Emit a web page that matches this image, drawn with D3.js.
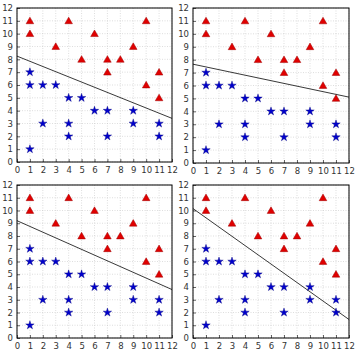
<!DOCTYPE html>
<html><head><meta charset="utf-8">
<script src="https://cdn.jsdelivr.net/npm/d3@7"></script>
<style>body{margin:0;background:#fff}svg{display:block}</style>
</head><body>
<svg id="c" width="361" height="356"></svg>
<script>
const redX = [1,1,3,4,5,6,7,7,8,9,10,10,11,11];
const redY = [11,10,9,11,8,10,8,7,8,9,11,6,7,5];
const blueX = [1,1,2,3,1,2,4,5,4,4,6,7,7,9,9,11,11];
const blueY = [7,6,6,6,1,3,5,5,3,2,4,4,2,4,3,3,2];
// separating lines: value at x=0 and x=12 for each panel
const lineStart = [8.25, 7.65, 9.2, 10.15];
const lineEnd = [3.4, 5.1, 3.8, 1.45];
const ticks = [0,1,2,3,4,5,6,7,8,9,10,11,12];

const panels = [
  {x0:17, x1:172, y0:8, y1:162},
  {x0:193, x1:349, y0:8, y1:163},
  {x0:17, x1:172, y0:185, y1:338},
  {x0:193, x1:349, y0:185, y1:338}
];
const svg = d3.select("#c");
panels.forEach((p,i)=>{
  const x = d3.scaleLinear().domain([0,12]).range([p.x0,p.x1]);
  const y = d3.scaleLinear().domain([0,12]).range([p.y1,p.y0]);
  const g = svg.append("g");
  g.selectAll(".gx").data(ticks).enter().append("line")
    .attr("x1",d=>x(d)).attr("x2",d=>x(d)).attr("y1",p.y0).attr("y2",p.y1)
    .attr("stroke","#c8c8c8").attr("stroke-width",0.6).attr("stroke-dasharray","1,1.5");
  g.selectAll(".gy").data(ticks).enter().append("line")
    .attr("y1",d=>y(d)).attr("y2",d=>y(d)).attr("x1",p.x0).attr("x2",p.x1)
    .attr("stroke","#c8c8c8").attr("stroke-width",0.6).attr("stroke-dasharray","1,1.5");
  g.append("line").attr("x1",x(0)).attr("y1",y(lineStart[i])).attr("x2",x(12)).attr("y2",y(lineEnd[i]))
    .attr("stroke","#222").attr("stroke-width",0.9);
  g.selectAll(".r").data(redX.map((d,j)=>[d,redY[j]])).enter().append("path")
    .attr("d",d3.symbol().type(d3.symbolTriangle).size(25))
    .attr("transform",d=>`translate(${x(d[0])},${y(d[1])+0.7})`)
    .attr("fill","#e00000").attr("stroke","#a00000").attr("stroke-width",0.5);
  g.selectAll(".b").data(blueX.map((d,j)=>[d,blueY[j]])).enter().append("path")
    .attr("d",d3.symbol().type(d3.symbolStar).size(22))
    .attr("transform",d=>`translate(${x(d[0])},${y(d[1])})`)
    .attr("fill","#0000cc").attr("stroke","#000080").attr("stroke-width",0.4);
  const ax = d3.axisBottom(x).tickValues(ticks).tickSize(-3).tickPadding(5).tickFormat(d3.format("d"));
  const ay = d3.axisLeft(y).tickValues(ticks).tickSize(-3).tickPadding(4).tickFormat(d3.format("d"));
  const gx = g.append("g").attr("transform",`translate(0,${p.y1})`).call(ax);
  const gy = g.append("g").attr("transform",`translate(${p.x0},0)`).call(ay);
  [gx,gy].forEach(a=>{
    a.select(".domain").remove();
    a.selectAll("text").attr("font-family","DejaVu Sans, sans-serif").attr("font-size",8.5).attr("fill","#333");
    a.selectAll("line").attr("stroke","#000").attr("stroke-width",0.6);
  });
  g.append("rect").attr("x",p.x0).attr("y",p.y0).attr("width",p.x1-p.x0).attr("height",p.y1-p.y0)
    .attr("fill","none").attr("stroke","#000").attr("stroke-width",1);
});
</script>
</body></html>
